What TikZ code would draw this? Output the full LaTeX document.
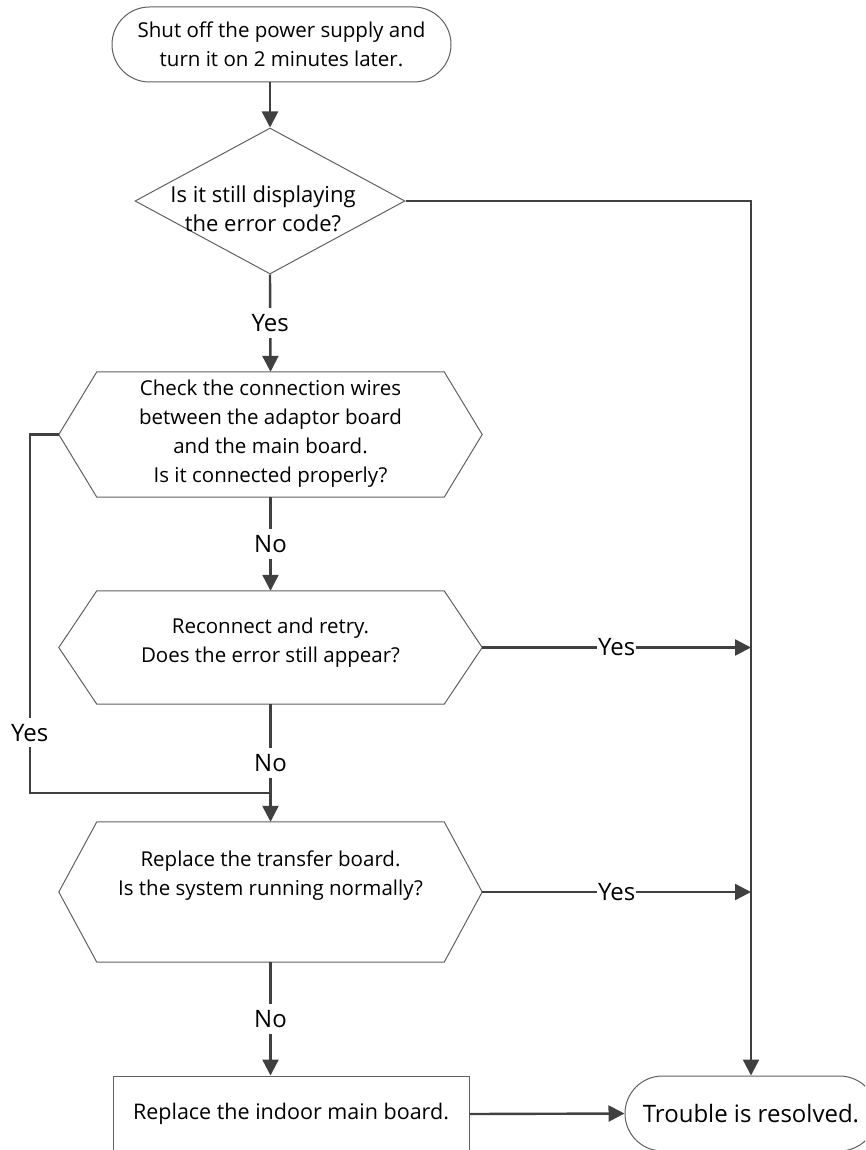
\documentclass[tikz,border=0pt]{standalone}
\usepackage{fontspec}
\setmainfont{Open Sans}
\usetikzlibrary{shapes.geometric,arrows.meta,calc}
\usepackage{xcolor}
\definecolor{Ink}{RGB}{64,64,64}
\definecolor{Frame}{RGB}{96,96,96}
\tikzset{
  tframe/.style={draw=Frame,line width=1pt},
  tterm/.style={rectangle,rounded corners=37.5pt,tframe,minimum height=75pt,
                font=\fontsize{20.5}{29.5}\selectfont,align=center,inner sep=0pt},
  tdec/.style={diamond,tframe,minimum width=270pt,minimum height=146pt,inner sep=0pt},
  thex/.style={rectangle,minimum width=423pt,minimum height=#1,inner sep=0pt},
  tbox/.style={rectangle,tframe,minimum width=356pt,minimum height=76pt,
               font=\fontsize{21.5}{29.5}\selectfont},
  ttext/.style={font=\fontsize{20.5}{29}\selectfont,align=center},
  tedge/.style={-{Triangle[length=16pt,width=16pt]},Ink,line width=2.4pt},
  tline/.style={Ink,line width=2.4pt},
  tlbl/.style={fill=white,text=black,font=\fontsize{24}{28}\selectfont,
               inner xsep=1pt,inner ysep=6pt},
}
\newcommand{\hexframe}[1]{%
  \draw[tframe] ($(#1.north west)+(38,0)$) -- ($(#1.north east)+(-38,0)$) -- (#1.east)
    -- ($(#1.south east)+(-38,0)$) -- ($(#1.south west)+(38,0)$) -- (#1.west) -- cycle;}

\begin{document}
\begin{tikzpicture}[x=1pt,y=-1pt]
  \useasboundingbox (0,0) rectangle (865,1150);
  \clip (0,0) rectangle (865,1150);

  % shapes
  \node[tterm,minimum width=339pt] (start) at (281.5,44.5)
    {Shut off the power supply and\\turn it on 2 minutes later.};
  \node[tdec,label={[ttext,font=\fontsize{22}{29}\selectfont,xshift=-7pt,yshift=-8pt]center:{Is it still displaying\\the error code?}}]
    (dec) at (270,201) {};
  \node[thex=125pt,label={[ttext,yshift=1pt]center:{Check the connection wires\\between the adaptor board\\and the main board.\\Is it connected properly?}}]
    (chk) at (270.5,434.5) {};
  \node[thex=113pt,label={[ttext,yshift=5pt]center:{Reconnect and retry.\\Does the error still appear?}}]
    (retry) at (270.5,647.5) {};
  \node[thex=140pt,label={[ttext,yshift=16pt]center:{Replace the transfer board.\\Is the system running normally?}}]
    (repl) at (270.5,892) {};
  \node[tbox] (main) at (291,1114) {Replace the indoor main board.};
  \node[tterm,minimum width=252pt,font=\fontsize{24}{28}\selectfont] (end) at (751,1113.5)
    {Trouble is resolved.};
  \hexframe{chk}
  \hexframe{retry}
  \hexframe{repl}

  \coordinate (join) at (270.5,793);

  % connectors
  \draw[tedge] (start.south -| dec.north) -- (dec.north);
  \draw[tedge] (dec.east) -| (end.north);
  \draw[tedge] (dec.south) -- node[tlbl]{Yes} (chk.north);
  \draw[tedge] (chk.south) -- node[tlbl]{No} (retry.north);
  \draw[tedge] (retry.south) -- node[tlbl]{No} (repl.north);
  \draw[tline] (chk.west) -- ++(-29,0) |- node[tlbl,pos=0.416]{Yes} (join);
  \draw[tedge] (retry.east) -- node[tlbl]{Yes} (retry.east -| end.north);
  \draw[tedge] (repl.east) -- node[tlbl]{Yes} (repl.east -| end.north);
  \draw[tedge] (repl.south) -- node[tlbl]{No} (repl.south |- main.north);
  \draw[tedge] (main.east) -- (end.west);
\end{tikzpicture}
\end{document}
